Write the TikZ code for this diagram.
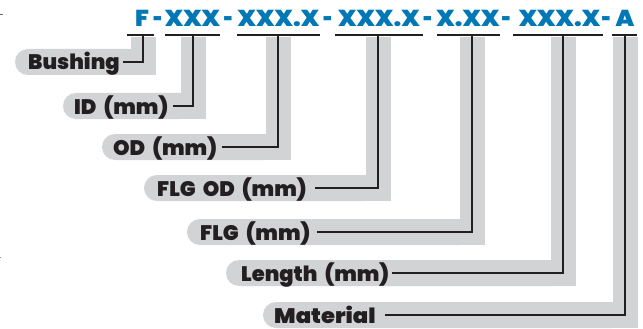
\documentclass[tikz,border=0pt]{standalone}
\usepackage{fontspec}
\newfontfamily\heavy{Poppins Black}
\definecolor{bandgrey}{RGB}{209,211,212}
\definecolor{inkblack}{RGB}{35,31,32}
\definecolor{codeblue}{RGB}{0,120,182}
\begin{document}
\begin{tikzpicture}[x=1pt,y=-1pt,
  lbl/.style={font=\heavy\fontsize{21}{21}\selectfont, text=inkblack, anchor=base west, inner sep=0pt},
  code/.style={font=\heavy\fontsize{23}{23}\selectfont, text=codeblue, anchor=base, inner sep=0pt, xscale=1.05},
  dashmark/.style={font=\heavy\fontsize{23}{23}\selectfont, text=codeblue, anchor=base, inner sep=0pt, xscale=0.7},
  ink/.style={draw=inkblack, line width=2pt, miter limit=10},
  band/.style={fill=bandgrey}]
\useasboundingbox (0,0) rectangle (643,329);
% tiny marks at left edge
\draw[inkblack!70, line width=0.8pt] (0,14) -- (3,14);
\draw[inkblack!50, line width=0.8pt] (0,257) -- (1,257);
% grey bands: pill left, stem x, line y
\foreach \pl/\sx/\ly in {15/143/62, 63/193/106, 102/278/147, 144/378/188, 187/472/232, 226/563/273, 263/625/315}{
  \fill[band, rounded corners=13pt] (\pl,\ly-13) rectangle (\sx,\ly+13);
  \fill[band] (\pl+20,\ly-13) rectangle (\sx+12.5,\ly+13);
  \fill[band] (\sx-12.5,37) rectangle (\sx+12.5,\ly+13);
}
% code text
\node[code] (c1) at (142,26.5) {F};
\node[code] (c2) at (192.5,26.5) {XXX};
\node[code] (c3) at (278.5,26.5) {XXX.X};
\node[code] (c4) at (379,26.5) {XXX.X};
\node[code] (c5) at (468,26.5) {X.XX};
\node[code] (c6) at (559.5,26.5) {XXX.X};
\node[code] (c7) at (625,26.5) {A};
\foreach \dx in {158,228.5,328,428,506.5,606.5}{
  \node[dashmark] at (\dx,26.5) {-};
}
% underlines
\coordinate (u1a) at (127,35); \coordinate (u1b) at (154,35);
\coordinate (u2a) at (165,35); \coordinate (u2b) at (220,35);
\coordinate (u3a) at (237,35); \coordinate (u3b) at (320,35);
\coordinate (u4a) at (335,35); \coordinate (u4b) at (423,35);
\coordinate (u5a) at (437,35); \coordinate (u5b) at (500,35);
\coordinate (u6a) at (513,35); \coordinate (u6b) at (603,35);
\coordinate (u7a) at (612,35); \coordinate (u7b) at (637,35);
\foreach \i in {1,...,7}{ \draw[ink] (u\i a) -- (u\i b); }
% labels
\node[lbl] (l1) at (28,70) {Bushing};
\node[lbl] (l2) at (74,114) {ID \,(mm)};
\node[lbl] (l3) at (113,155) {OD \,(mm)};
\node[lbl] (l4) at (157,196) {FLG \,OD \,(mm)};
\node[lbl] (l5) at (200,240) {FLG \,(mm)};
\node[lbl] (l6) at (241,281) {Length \,(mm)};
\node[lbl, xscale=1.08] (l7) at (274,323) {Material};
% stems
\coordinate (s1) at (143,36); \coordinate (k1) at (143,62);
\coordinate (s2) at (193,36); \coordinate (k2) at (193,106);
\coordinate (s3) at (278,36); \coordinate (k3) at (278,147);
\coordinate (s4) at (378,36); \coordinate (k4) at (378,188);
\coordinate (s5) at (472,36); \coordinate (k5) at (472,232);
\coordinate (s6) at (563,36); \coordinate (k6) at (563,273);
\coordinate (s7) at (625,36); \coordinate (k7) at (625,315);
\draw[ink] (123,62) -- (k1) -- (s1);
\draw[ink] (173,106) -- (k2) -- (s2);
\draw[ink] (222,147) -- (k3) -- (s3);
\draw[ink] (315,188) -- (k4) -- (s4);
\draw[ink] (317,232) -- (k5) -- (s5);
\draw[ink] (392,273) -- (k6) -- (s6);
\draw[ink] (385,315) -- (k7) -- (s7);
\end{tikzpicture}
\end{document}
